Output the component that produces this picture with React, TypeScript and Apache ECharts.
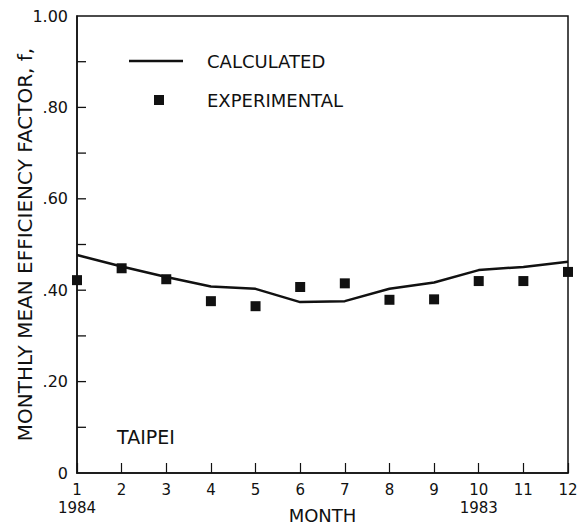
import React, { useEffect, useRef } from "react";
import * as echarts from "echarts";

const months = [1, 2, 3, 4, 5, 6, 7, 8, 9, 10, 11, 12];
const calculated = [0.477, 0.452, 0.429, 0.408, 0.403, 0.374, 0.376, 0.403, 0.417, 0.444, 0.451, 0.462];
const experimental = [0.422, 0.448, 0.424, 0.376, 0.365, 0.407, 0.415, 0.379, 0.38, 0.42, 0.42, 0.44];
const yTickValues = [0.1, 0.2, 0.3, 0.4, 0.5, 0.6, 0.7, 0.8, 0.9];
const yTickLabels = ["0", ".20", ".40", ".60", ".80", "1.00"];
const yearLabels: Record<number, string> = { 1: "1984", 10: "1983" };
const seriesNames = ["CALCULATED", "EXPERIMENTAL"];
const yAxisTitle = "MONTHLY MEAN EFFICIENCY FACTOR, f,";
const xAxisTitle = "MONTH";
const siteLabel = "TAIPEI";

const FONT = "DejaVu Sans";
const INK = "#111";

export default function App() {
  const ref = useRef<HTMLDivElement>(null);
  useEffect(() => {
    document.body.style.margin = "0";
    const chart = echarts.init(ref.current!, null, { renderer: "svg" });
    chart.setOption({
      animation: false,
      backgroundColor: "#fff",
      textStyle: { fontFamily: FONT, color: INK },
      grid: {
        left: 77,
        right: 9,
        top: 16,
        bottom: 53,
        outerBoundsMode: "none",
        containLabel: false,
        show: true,
        borderColor: INK,
        borderWidth: 1.5,
      },
      legend: [
        {
          data: [seriesNames[0]],
          left: 129,
          top: 52,
          padding: 0,
          itemWidth: 54,
          itemHeight: 14,
          icon: "path://M0,6 L54,6 L54,8.5 L0,8.5 Z",
          itemStyle: { color: INK },
          textStyle: { fontFamily: FONT, fontSize: 18, color: INK, padding: [0, 0, 0, 19] },
          selectedMode: false,
        },
        {
          data: [seriesNames[1]],
          left: 154,
          top: 91,
          padding: 0,
          itemWidth: 10,
          itemHeight: 10,
          icon: "rect",
          itemStyle: { color: INK, opacity: 1 },
          textStyle: { fontFamily: FONT, fontSize: 18, color: INK, padding: [0, 0, 0, 38] },
          selectedMode: false,
        },
      ],
      xAxis: {
        type: "value",
        min: 1,
        max: 12,
        interval: 1,
        name: xAxisTitle,
        nameLocation: "middle",
        nameGap: 33,
        nameMoveOverlap: false,
        nameTextStyle: { fontFamily: FONT, fontSize: 18, color: INK },
        splitLine: { show: false },
        axisLine: { show: true, lineStyle: { color: INK, width: 1.5 } },
        axisTick: { show: true, inside: true, length: 10, interval: 0, lineStyle: { color: INK, width: 1.2 } },
        axisLabel: {
          margin: 8,
          interval: 0,
          fontFamily: FONT,
          fontSize: 15,
          color: INK,
          lineHeight: 18,
          formatter: (v: number) => (yearLabels[v] ? `${v}\n${yearLabels[v]}` : `${v}`),
        },
      },
      yAxis: {
        type: "value",
        min: 0,
        max: 1,
        interval: 0.2,
        name: yAxisTitle,
        nameLocation: "middle",
        nameRotate: 90,
        nameGap: 42,
        nameMoveOverlap: false,
        nameTextStyle: { fontFamily: FONT, fontSize: 20, color: INK },
        splitLine: { show: false },
        axisLine: { show: true, lineStyle: { color: INK, width: 1.5 } },
        axisTick: { show: false },
        axisLabel: {
          margin: 9,
          interval: 0,
          fontFamily: FONT,
          fontSize: 16,
          color: INK,
          formatter: (v: number) => yTickLabels[Math.round(v * 5)],
        },
      },
      graphic: [
        {
          type: "text",
          left: 117,
          top: 427,
          style: { text: siteLabel, fontFamily: FONT, fontSize: 19, fill: INK },
        },
      ],
      series: [
        {
          name: "yTicks",
          type: "custom",
          silent: true,
          data: yTickValues.map((v) => [months[0], v]),
          renderItem: (_params: any, api: any) => {
            const p = api.coord([api.value(0), api.value(1)]);
            return {
              type: "line",
              shape: { x1: p[0], y1: p[1], x2: p[0] + 9, y2: p[1] },
              style: { stroke: INK, lineWidth: 1.3 },
            };
          },
          z: 5,
        },
        {
          name: seriesNames[0],
          type: "line",
          data: months.map((m, i) => [m, calculated[i]]),
          showSymbol: false,
          symbol: "none",
          lineStyle: { color: INK, width: 2.5 },
          itemStyle: { color: INK },
        },
        {
          name: seriesNames[1],
          type: "scatter",
          data: months.map((m, i) => [m, experimental[i]]),
          symbol: "rect",
          symbolSize: 10,
          itemStyle: { color: INK, opacity: 1 },
        },
      ],
    });
    return () => chart.dispose();
  }, []);
  return <div ref={ref} style={{ width: 577, height: 526, position: "absolute", left: 0, top: 0 }} />;
}
